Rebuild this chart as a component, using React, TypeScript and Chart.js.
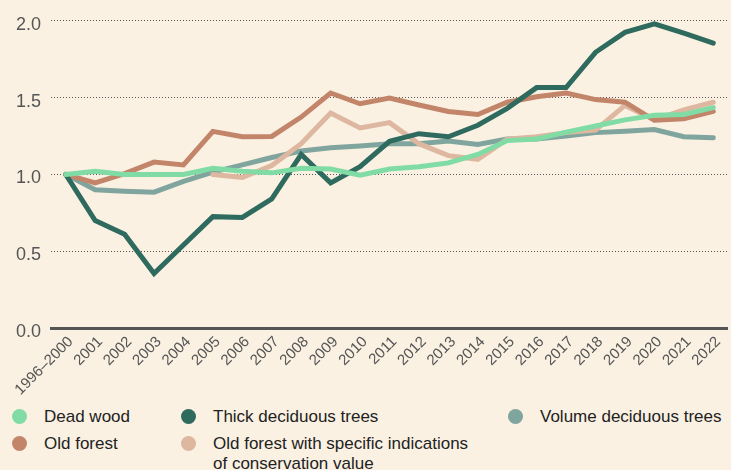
import React, { useEffect, useRef } from "react";
import { Chart, registerables } from "chart.js";

Chart.register(...registerables);

const categories = [
  "1996–2000", "2001", "2002", "2003", "2004", "2005", "2006", "2007", "2008", "2009",
  "2010", "2011", "2012", "2013", "2014", "2015", "2016", "2017", "2018", "2019",
  "2020", "2021", "2022",
];

const deadWood = [1.0, 1.02, 1.0, 1.0, 1.0, 1.04, 1.02, 1.01, 1.04, 1.035, 0.995, 1.035, 1.05, 1.075, 1.13, 1.22, 1.23, 1.275, 1.315, 1.355, 1.385, 1.39, 1.435];
const thickDeciduous = [1.0, 0.7, 0.61, 0.355, 0.54, 0.725, 0.72, 0.84, 1.13, 0.945, 1.05, 1.215, 1.265, 1.245, 1.32, 1.43, 1.565, 1.565, 1.795, 1.925, 1.98, 1.92, 1.855];
const volumeDeciduous = [1.0, 0.9, 0.89, 0.884, 0.955, 1.015, 1.062, 1.11, 1.152, 1.174, 1.185, 1.2, 1.2, 1.217, 1.195, 1.23, 1.23, 1.25, 1.272, 1.281, 1.292, 1.245, 1.238];
const oldForest = [1.0, 0.945, 1.005, 1.08, 1.062, 1.28, 1.245, 1.247, 1.373, 1.53, 1.46, 1.497, 1.452, 1.41, 1.39, 1.47, 1.505, 1.53, 1.487, 1.47, 1.352, 1.362, 1.41];
const oldForestSpecific = [null, null, null, null, null, 1.0, 0.98, 1.058, 1.2, 1.4, 1.302, 1.337, 1.2, 1.122, 1.098, 1.23, 1.245, 1.272, 1.288, 1.449, 1.355, 1.42, 1.47];

const yMin = 0;
const yMax = 2;
const yStep = 0.5;

const COLORS = {
  deadWood: "#80dca4",
  thick: "#2f6a5e",
  volume: "#80a59e",
  old: "#c2856a",
  oldSpecific: "#ddb7a0",
  bg: "#faf1e2",
  axis: "#555555",
  text: "#222222",
};

const FONT = "'Liberation Sans', Arial, Helvetica, sans-serif";

const legendItems = [
  { label: ["Dead wood"], color: COLORS.deadWood, x: 19, y: 416 },
  { label: ["Thick deciduous trees"], color: COLORS.thick, x: 188, y: 416 },
  { label: ["Volume deciduous trees"], color: COLORS.volume, x: 515, y: 416 },
  { label: ["Old forest"], color: COLORS.old, x: 19, y: 443 },
  { label: ["Old forest with specific indications", "of conservation value"], color: COLORS.oldSpecific, x: 188, y: 443 },
];

export default function App() {
  const canvasRef = useRef<HTMLCanvasElement | null>(null);

  useEffect(() => {
    const canvas = canvasRef.current;
    if (!canvas) return;
    const line = (label: string, data: (number | null)[], color: string) => ({
      label,
      data,
      borderColor: color,
      backgroundColor: color,
      borderWidth: 5,
      pointRadius: 0,
      tension: 0,
      borderJoinStyle: "miter" as const,
      borderCapStyle: "round" as const,
      fill: false,
    });
    const chart = new Chart(canvas, {
      type: "line",
      data: {
        labels: categories,
        datasets: [
          line("Dead wood", deadWood, COLORS.deadWood),
          line("Thick deciduous trees", thickDeciduous, COLORS.thick),
          line("Old forest", oldForest, COLORS.old),
          line("Old forest with specific indications of conservation value", oldForestSpecific, COLORS.oldSpecific),
          line("Volume deciduous trees", volumeDeciduous, COLORS.volume),
        ],
      },
      options: {
        animation: false,
        responsive: false,
        maintainAspectRatio: false,
        devicePixelRatio: 1,
        layout: { padding: { top: 17, left: 0, right: 0, bottom: 0 } },
        plugins: {
          legend: { display: false },
          tooltip: { enabled: false },
        },
        scales: {
          x: {
            offset: true,
            grid: { display: false, drawTicks: false },
            border: { display: true, color: COLORS.axis, width: 3 },
            ticks: {
              autoSkip: false,
              maxRotation: 45,
              minRotation: 45,
              padding: 5,
              labelOffset: 5,
              color: COLORS.axis,
              font: { family: FONT, size: 15 },
            },
            afterFit: (scale: any) => {
              scale.height = 72;
            },
          },
          y: {
            min: yMin,
            max: yMax,
            ticks: {
              stepSize: yStep,
              padding: 10,
              labelOffset: 4,
              color: COLORS.axis,
              font: { family: FONT, size: 18 },
              callback: (v: any) => Number(v).toFixed(1),
            },
            grid: { color: COLORS.axis, lineWidth: 1, drawTicks: false },
            border: { display: false, dash: [1, 2] },
            afterFit: (scale: any) => {
              scale.width = 51;
            },
          },
        },
      },
    } as any);
    return () => chart.destroy();
  }, []);

  return (
    <div
      style={{
        position: "fixed",
        left: 0,
        top: 0,
        width: 731,
        height: 470,
        background: COLORS.bg,
        overflow: "hidden",
        fontFamily: FONT,
      }}
    >
      <canvas
        ref={canvasRef}
        width={731}
        height={400}
        style={{ position: "absolute", left: 0, top: 0, width: 731, height: 400 }}
      />
      {legendItems.map((it, i) => (
        <div key={i}>
          <div
            style={{
              position: "absolute",
              left: it.x - 7.5,
              top: it.y - 7.5,
              width: 15,
              height: 15,
              borderRadius: "50%",
              background: it.color,
            }}
          />
          <div
            style={{
              position: "absolute",
              left: it.x + 25,
              top: it.y - 9,
              fontSize: 17,
              lineHeight: "20px",
              color: COLORS.text,
              whiteSpace: "nowrap",
            }}
          >
            {it.label.map((l, j) => (
              <div key={j}>{l}</div>
            ))}
          </div>
        </div>
      ))}
    </div>
  );
}
